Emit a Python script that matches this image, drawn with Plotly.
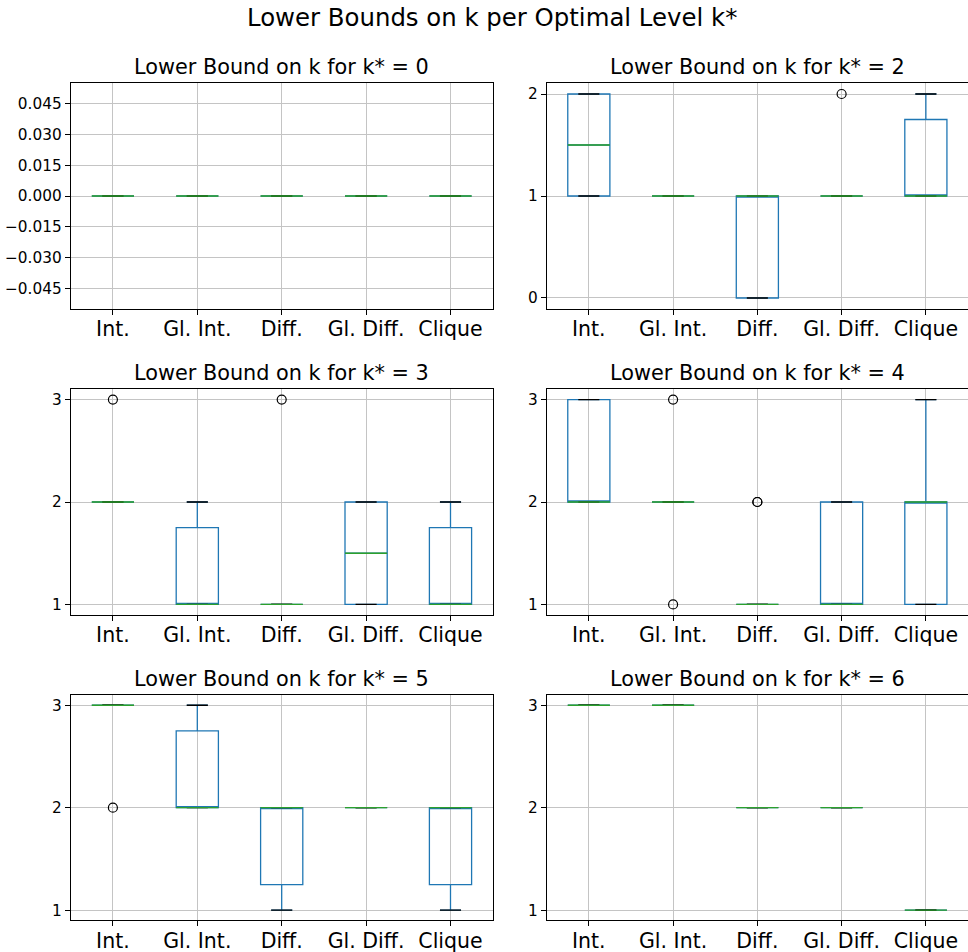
import plotly.graph_objects as go

# ---------------- data ----------------
CATEGORIES = ["Int.", "Gl. Int.", "Diff.", "Gl. Diff.", "Clique"]
K_STAR = [0, 2, 3, 4, 5, 6]

# per panel (k*), per category
Q1 = [
    [0, 0, 0, 0, 0],
    [1, 1, 0, 1, 1],
    [2, 1, 1, 1, 1],
    [2, 2, 1, 1, 1],
    [3, 2, 1.25, 2, 1.25],
    [3, 3, 2, 2, 1],
]
MEDIAN = [
    [0, 0, 0, 0, 0],
    [1.5, 1, 1, 1, 1],
    [2, 1, 1, 1.5, 1],
    [2, 2, 1, 1, 2],
    [3, 2, 2, 2, 2],
    [3, 3, 2, 2, 1],
]
Q3 = [
    [0, 0, 0, 0, 0],
    [2, 1, 1, 1, 1.75],
    [2, 1.75, 1, 2, 1.75],
    [3, 2, 1, 2, 2],
    [3, 2.75, 2, 2, 2],
    [3, 3, 2, 2, 1],
]
WHISKER_LOW = [
    [0, 0, 0, 0, 0],
    [1, 1, 0, 1, 1],
    [2, 1, 1, 1, 1],
    [2, 2, 1, 1, 1],
    [3, 2, 1, 2, 1],
    [3, 3, 2, 2, 1],
]
WHISKER_HIGH = [
    [0, 0, 0, 0, 0],
    [2, 1, 1, 1, 2],
    [2, 2, 1, 2, 2],
    [3, 2, 1, 2, 3],
    [3, 3, 2, 2, 2],
    [3, 3, 2, 2, 1],
]
OUTLIERS = [
    [[], [], [], [], []],
    [[], [], [], [2], []],
    [[3], [], [3], [], []],
    [[], [3, 1], [2, 2], [], []],
    [[2], [], [], [], []],
    [[], [], [], [], []],
]

Y_RANGES = [[-0.055, 0.055], [-0.105, 2.105], [0.9, 3.1], [0.9, 3.1], [0.9, 3.1], [0.9, 3.1]]
Y_TICKVALS = [
    [-0.045, -0.030, -0.015, 0.0, 0.015, 0.030, 0.045],
    [0, 1, 2],
    [1, 2, 3],
    [1, 2, 3],
    [1, 2, 3],
    [1, 2, 3],
]
Y_TICKTEXT = [
    ["\u22120.045", "\u22120.030", "\u22120.015", "0.000", "0.015", "0.030", "0.045"],
    ["0", "1", "2"],
    ["1", "2", "3"],
    ["1", "2", "3"],
    ["1", "2", "3"],
    ["1", "2", "3"],
]

TITLE = "Lower Bounds on k per Optimal Level k*"
SUBTITLE = "Lower Bound on k for k* = {}"

# ---------------- style / layout ----------------
W, H = 968, 952
FONT = "DejaVu Sans"
BOX_BLUE = "#1f77b4"
MED_GREEN = "#2ca02c"
GRID = "#c4c4c4"
BOX_W = 0.5
CAP_W = 0.25

COL_LEFT = [70.7, 546.7]
AX_W = 422.0
ROW_TOP = [83.3, 389.3, 695.0]
AX_H = 225.4
TITLE_CY = [66.7, 373.0, 679.0]

positions = [i + 1 for i in range(len(CATEGORIES))]

fig = go.Figure()
layout = dict(
    width=W, height=H,
    margin=dict(l=0, r=0, t=0, b=0),
    paper_bgcolor="white", plot_bgcolor="white",
    showlegend=False,
    font=dict(family=FONT, color="black"),
    annotations=[],
)

for p in range(6):
    r, c = divmod(p, 2)
    xa = "x" if p == 0 else f"x{p+1}"
    ya = "y" if p == 0 else f"y{p+1}"
    x0 = COL_LEFT[c] / W
    x1 = min(1.0, (COL_LEFT[c] + AX_W) / W)
    y1 = 1 - ROW_TOP[r] / H
    y0 = 1 - (ROW_TOP[r] + AX_H) / H

    # box + whiskers
    fig.add_trace(go.Box(
        x=positions, q1=Q1[p], median=MEDIAN[p], q3=Q3[p],
        lowerfence=WHISKER_LOW[p], upperfence=WHISKER_HIGH[p],
        width=BOX_W, whiskerwidth=0.5,
        line=dict(color=BOX_BLUE, width=1.3),
        fillcolor="rgba(0,0,0,0)", boxpoints=False,
        xaxis=xa, yaxis=ya, hoverinfo="skip",
    ))
    # black caps
    cx, cy = [], []
    for i, pos in enumerate(positions):
        for v in (WHISKER_LOW[p][i], WHISKER_HIGH[p][i]):
            cx += [pos - CAP_W / 2, pos + CAP_W / 2, None]
            cy += [v, v, None]
    fig.add_trace(go.Scatter(x=cx, y=cy, mode="lines",
                             line=dict(color="black", width=1.3),
                             xaxis=xa, yaxis=ya, hoverinfo="skip"))
    # green medians
    mx, my = [], []
    for i, pos in enumerate(positions):
        mx += [pos - BOX_W / 2, pos + BOX_W / 2, None]
        my += [MEDIAN[p][i], MEDIAN[p][i], None]
    fig.add_trace(go.Scatter(x=mx, y=my, mode="lines",
                             line=dict(color=MED_GREEN, width=1.3),
                             xaxis=xa, yaxis=ya, hoverinfo="skip"))
    # outliers
    ox, oy = [], []
    for i, pos in enumerate(positions):
        for v in OUTLIERS[p][i]:
            ox.append(pos)
            oy.append(v)
    if ox:
        fig.add_trace(go.Scatter(x=ox, y=oy, mode="markers",
                                 marker=dict(symbol="circle-open", size=9,
                                             color="black", line=dict(width=1.2)),
                                 xaxis=xa, yaxis=ya, hoverinfo="skip"))

    axis_common = dict(
        showline=True, mirror=True, linecolor="black", linewidth=1,
        ticks="outside", ticklen=5, tickwidth=1, tickcolor="black",
        showgrid=True, gridcolor=GRID, gridwidth=1, zeroline=False,
    )
    layout["xaxis" if p == 0 else f"xaxis{p+1}"] = dict(
        axis_common, domain=[x0, x1], range=[0.5, 5.5],
        tickvals=positions, ticktext=CATEGORIES,
        tickfont=dict(size=20.5, family=FONT, color="black"),
        ticklabelstandoff=-3,
        anchor=ya,
    )
    layout["yaxis" if p == 0 else f"yaxis{p+1}"] = dict(
        axis_common, domain=[y0, y1], range=Y_RANGES[p],
        tickvals=Y_TICKVALS[p], ticktext=Y_TICKTEXT[p],
        tickfont=dict(size=15.3, family=FONT, color="black"),
        anchor=xa,
    )
    layout["annotations"].append(dict(
        text=SUBTITLE.format(K_STAR[p]), xref="paper", yref="paper",
        x=(COL_LEFT[c] + AX_W / 2) / W, y=1 - TITLE_CY[r] / H,
        xanchor="center", yanchor="middle", showarrow=False,
        font=dict(size=20.8, family=FONT, color="black"),
    ))

layout["annotations"].append(dict(
    text=TITLE, xref="paper", yref="paper",
    x=492.4 / W, y=1 - 17.5 / H, xanchor="center", yanchor="middle",
    showarrow=False, font=dict(size=24.4, family=FONT, color="black"),
))

fig.update_layout(**layout)
fig.write_html(
    "out.html",
    config={"displayModeBar": False, "staticPlot": True},
    post_script="document.body.style.margin='0px';document.body.style.overflow='hidden';",
)
